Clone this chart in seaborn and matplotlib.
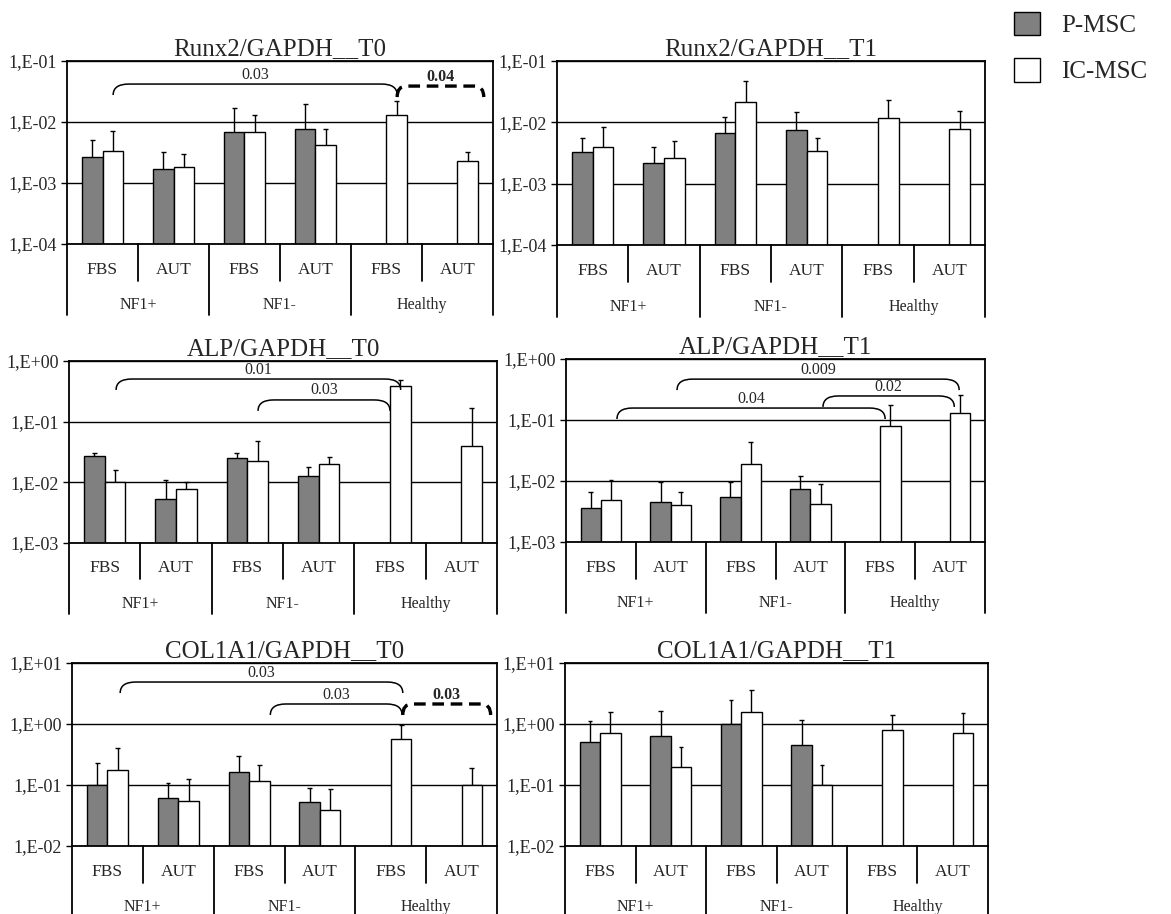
import numpy as np
import pandas as pd
import matplotlib
matplotlib.use("Agg")
import matplotlib.pyplot as plt
from matplotlib.path import Path
from matplotlib.patches import PathPatch, Patch
from matplotlib.ticker import FuncFormatter, LogLocator, NullLocator
import seaborn as sns

# categories
groups = ["NF1+", "NF1-", "Healthy"]
media = ["FBS", "AUT"]
cells = ["P-MSC", "IC-MSC"]
conds = [f"{g} {m}" for g in groups for m in media]

# values (P-MSC has no Healthy bars)
runx2_t0_p = [2.7e-3, 1.72e-3, 6.8e-3, 7.7e-3]
runx2_t0_p_up = [5.0e-3, 3.2e-3, 1.7e-2, 2.0e-2]
runx2_t0_ic = [3.35e-3, 1.83e-3, 6.9e-3, 4.15e-3, 1.29e-2, 2.29e-3]
runx2_t0_ic_up = [7.2e-3, 3.0e-3, 1.32e-2, 7.7e-3, 2.24e-2, 3.2e-3]

runx2_t1_p = [3.27e-3, 2.15e-3, 6.7e-3, 7.5e-3]
runx2_t1_p_up = [5.47e-3, 3.94e-3, 1.22e-2, 1.47e-2]
runx2_t1_ic = [3.94e-3, 2.6e-3, 2.14e-2, 3.4e-3, 1.18e-2, 7.8e-3]
runx2_t1_ic_up = [8.4e-3, 5.0e-3, 4.76e-2, 5.6e-3, 2.32e-2, 1.53e-2]

alp_t0_p = [2.73e-2, 5.35e-3, 2.53e-2, 1.28e-2]
alp_t0_p_up = [3.0e-2, 1.09e-2, 3.0e-2, 1.76e-2]
alp_t0_ic = [1.0e-2, 7.7e-3, 2.26e-2, 2.02e-2, 0.386, 3.99e-2]
alp_t0_ic_up = [1.58e-2, 1.03e-2, 4.75e-2, 2.6e-2, 0.49, 0.166]

alp_t1_p = [3.55e-3, 4.5e-3, 5.46e-3, 7.3e-3]
alp_t1_p_up = [6.5e-3, 9.8e-3, 9.8e-3, 1.21e-2]
alp_t1_ic = [4.93e-3, 3.98e-3, 1.9e-2, 4.19e-3, 7.87e-2, 0.129]
alp_t1_ic_up = [1.04e-2, 6.5e-3, 4.4e-2, 8.9e-3, 0.177, 0.255]

col_t0_p = [0.1, 0.062, 0.165, 0.0526]
col_t0_p_up = [0.232, 0.108, 0.30, 0.0904]
col_t0_ic = [0.178, 0.0553, 0.118, 0.0394, 0.575, 0.1]
col_t0_ic_up = [0.404, 0.125, 0.21, 0.086, 0.95, 0.19]

col_t1_p = [0.513, 0.644, 0.99, 0.447]
col_t1_p_up = [1.12, 1.61, 2.47, 1.16]
col_t1_ic = [0.703, 0.195, 1.57, 0.099, 0.797, 0.703]
col_t1_ic_up = [1.57, 0.42, 3.6, 0.213, 1.42, 1.53]

# p-value brackets: (from position, to position, label, dashed)
runx2_t0_pvals = [(0.15, 4.15, "0.03", False), (4.15, 5.37, "0.04", True)]
alp_t0_pvals = [(0.16, 4.15, "0.01", False), (2.15, 4.0, "0.03", False)]
alp_t1_pvals = [(1.09, 5.13, "0.009", False), (3.18, 5.06, "0.02", False), (0.23, 4.07, "0.04", False)]
col_t0_pvals = [(0.18, 4.17, "0.03", False), (2.3, 4.16, "0.03", False), (4.17, 5.41, "0.03", True)]


def make_df(p, p_up, ic, ic_up):
    rows = []
    for i in range(len(p)):
        rows.append((conds[i], "P-MSC", p[i], p_up[i]))
    for i in range(len(ic)):
        rows.append((conds[i], "IC-MSC", ic[i], ic_up[i]))
    return pd.DataFrame(rows, columns=["cond", "cell", "value", "upper"])


sns.set_style("white")
plt.rcParams['font.family'] = ['Liberation Serif', 'DejaVu Serif']

fig = plt.figure(figsize=(11.71, 9.14), dpi=100)
W, H = 1171, 914

# (title, data, brackets, ylim, pixel box L R T B, bracket levels)
panels = [
    ("Runx2/GAPDH__T0", make_df(runx2_t0_p, runx2_t0_p_up, runx2_t0_ic, runx2_t0_ic_up),
     runx2_t0_pvals, (1e-4, 1e-1), (67, 493, 61, 244), [0.874, 0.863]),
    ("Runx2/GAPDH__T1", make_df(runx2_t1_p, runx2_t1_p_up, runx2_t1_ic, runx2_t1_ic_up),
     [], (1e-4, 1e-1), (557, 985, 61, 245), []),
    ("ALP/GAPDH__T0", make_df(alp_t0_p, alp_t0_p_up, alp_t0_ic, alp_t0_ic_up),
     alp_t0_pvals, (1e-3, 1e0), (69, 497, 361, 543), [0.901, 0.786]),
    ("ALP/GAPDH__T1", make_df(alp_t1_p, alp_t1_p_up, alp_t1_ic, alp_t1_ic_up),
     alp_t1_pvals, (1e-3, 1e0), (566, 985, 359, 542), [0.89, 0.798, 0.732]),
    ("COL1A1/GAPDH__T0", make_df(col_t0_p, col_t0_p_up, col_t0_ic, col_t0_ic_up),
     col_t0_pvals, (1e-2, 1e1), (72, 497, 663, 846), [0.896, 0.776, 0.776]),
    ("COL1A1/GAPDH__T1", make_df(col_t1_p, col_t1_p_up, col_t1_ic, col_t1_ic_up),
     [], (1e-2, 1e1), (565, 988, 663, 846), []),
]

palette = {"P-MSC": "#808080", "IC-MSC": "white"}


def excel_fmt(v, pos):
    e = int(round(np.log10(v)))
    return f"1,E{e:+03d}"


def bracket(ax, x0, x1, y, label, dashed):
    trans = ax.get_xaxis_transform()
    drop = 0.06
    dx = 0.13 if dashed else 0.22
    verts = [(x0, y - drop), (x0, y), (x0 + dx, y), (x1 - dx, y), (x1, y), (x1, y - drop)]
    codes = [Path.MOVETO, Path.CURVE3, Path.CURVE3, Path.LINETO, Path.CURVE3, Path.CURVE3]
    if dashed:
        patch = PathPatch(Path(verts, codes), fill=False, transform=trans, clip_on=False,
                          lw=2.4, ls=(0, (3.5, 2)), edgecolor="black")
    else:
        patch = PathPatch(Path(verts, codes), fill=False, transform=trans, clip_on=False,
                          lw=1.1, edgecolor="black")
    ax.add_patch(patch)
    ax.text((x0 + x1) / 2, y + 0.008, label, transform=trans, ha="center", va="bottom",
            fontsize=11.5, fontweight="bold" if dashed else "normal")


for title, df, pvals, ylim, box, levels in panels:
    L, R, T, B = box
    ax = fig.add_axes([L / W, 1 - B / H, (R - L) / W, (B - T) / H])
    ax.set_yscale("log")
    sns.barplot(data=df, x="cond", y="value", hue="cell", order=conds, hue_order=cells,
                palette=palette, edgecolor="black", linewidth=1, width=0.58,
                errorbar=None, legend=False, ax=ax)
    ax.set_ylim(*ylim)
    ax.set_xlim(-0.5, 5.5)

    # one-sided error bars from the bar tops
    for container, cell in zip(ax.containers, cells):
        sub = df[df["cell"] == cell].set_index("cond")
        for bar in container:
            xc = bar.get_x() + bar.get_width() / 2
            cond = conds[int(round(xc))]
            if cond not in sub.index:
                continue
            v, up = sub.loc[cond, "value"], sub.loc[cond, "upper"]
            ax.vlines(xc, v, up, color="black", lw=1, zorder=3)
            ax.hlines(up, xc - 0.035, xc + 0.035, color="black", lw=1, zorder=3)

    ax.yaxis.set_major_locator(LogLocator(base=10, numticks=10))
    ax.yaxis.set_minor_locator(NullLocator())
    ax.yaxis.set_major_formatter(FuncFormatter(excel_fmt))
    ax.yaxis.grid(True, color="black", lw=1)
    ax.set_axisbelow(True)
    ax.tick_params(axis="y", direction="out", length=4, width=1, color="black",
                   labelsize=13, pad=3, left=True)
    ax.tick_params(axis="x", length=0, labelbottom=False)
    ax.set_xlabel("")
    ax.set_ylabel("")
    for s in ax.spines.values():
        s.set_color("black")
        s.set_linewidth(1.3)
    ax.set_title(title, fontsize=18, pad=4)

    # two-level category axis below the plot
    trans = ax.get_xaxis_transform()
    for b in [-0.5, 1.5, 3.5, 5.5]:
        ax.plot([b, b], [0, -0.39], transform=trans, clip_on=False, color="black", lw=1.3)
    for b in [0.5, 2.5, 4.5]:
        ax.plot([b, b], [0, -0.2], transform=trans, clip_on=False, color="black", lw=1.3)
    for i in range(len(conds)):
        ax.text(i, -0.14, media[i % 2], transform=trans, ha="center", va="center", fontsize=12.5)
    for j, g in enumerate(groups):
        ax.text(2 * j + 0.5, -0.335, g, transform=trans, ha="center", va="center", fontsize=11.5)

    for (x0, x1, label, dashed), y in zip(pvals, levels):
        bracket(ax, x0, x1, y, label, dashed)

handles = [Patch(facecolor=palette[c], edgecolor="black", lw=1) for c in cells]
fig.legend(handles, cells, loc="upper left", bbox_to_anchor=(1004 / W, 1 - 2 / H),
           frameon=False, fontsize=18, handlelength=1.05, handleheight=1.05,
           handletextpad=0.85, labelspacing=0.85, borderaxespad=0)

fig.savefig("out.png", dpi=100)
